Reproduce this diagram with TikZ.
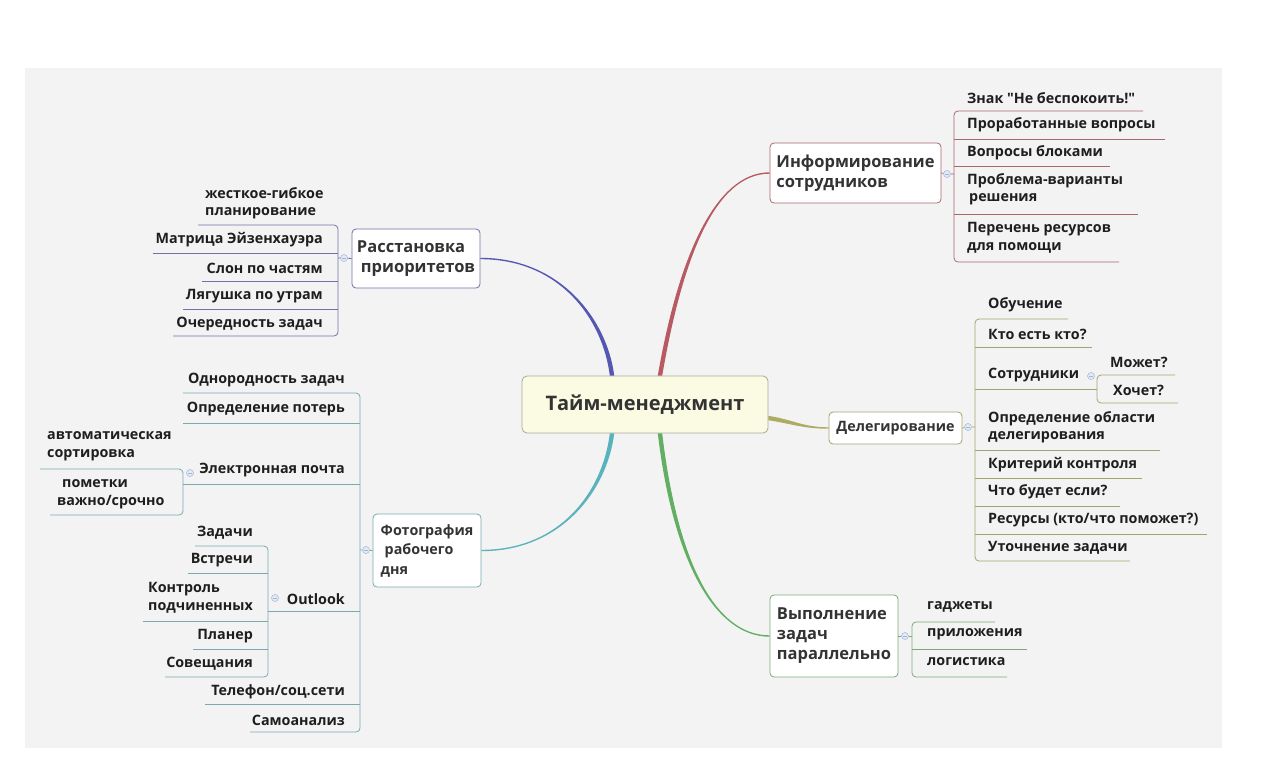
\documentclass[tikz,border=0pt]{standalone}
\usepackage{fontspec}
\setmainfont{Open Sans}[Ligatures=TeXOff]
\usetikzlibrary{calc}

\definecolor{bgcol}{HTML}{F3F3F3}
\definecolor{txtcol}{HTML}{1E1E1E}
\definecolor{topcol}{HTML}{333333}
\definecolor{rootfill}{HTML}{FBFBE4}
\definecolor{rootline}{HTML}{A9A99B}
\definecolor{bluebr}{HTML}{5558B2}
\definecolor{blueln}{HTML}{6F72A3}
\definecolor{redbr}{HTML}{B75A62}
\definecolor{redln}{HTML}{A8686D}
\definecolor{olivebr}{HTML}{ADAC62}
\definecolor{oliveln}{HTML}{A5A470}
\definecolor{tealbr}{HTML}{5AB2BB}
\definecolor{tealln}{HTML}{7AAAB0}
\definecolor{greenbr}{HTML}{62AE62}
\definecolor{greenln}{HTML}{7AAA7A}
\definecolor{mkfill}{HTML}{E2EAF6}
\definecolor{mkline}{HTML}{A3B4D4}

\tikzset{
  rootbox/.style={draw=rootline, fill=rootfill, rounded corners=5pt, line width=0.8pt,
    minimum width=246pt, minimum height=57pt, inner sep=0pt, text=topcol,
    font=\bfseries\fontsize{20}{23}\selectfont},
  topic/.style={draw=#1, fill=white, rounded corners=4pt, line width=0.8pt, inner sep=0pt,
    align=left, text=topcol, font=\bfseries\fontsize{16.5}{20}\selectfont},
  small topic/.style={font=\bfseries\fontsize{14.3}{19.5}\selectfont},
  leaf/.style={inner sep=0pt, align=left, text=txtcol, font=\bfseries\fontsize{14.3}{17.5}\selectfont},
  ul/.style={draw=#1, line width=0.8pt, rounded corners=4pt},
  marker/.style={circle, draw=mkline, fill=mkfill, minimum size=7pt, inner sep=0pt, line width=0.5pt,
    path picture={\draw[mkline, line width=0.7pt]
      ($(path picture bounding box.center)+(-2,0)$) -- ++(4,0);}},
}

\begin{document}
\begin{tikzpicture}[x=1pt, y=-1pt]
\useasboundingbox (0,0) rectangle (1263,769);
\fill[bgcol] (25,68) rectangle (1222,748);

% centre
\node[rootbox] (root) at (645,404.5) {Тайм-менеджмент};
\coordinate (rootNW) at ($(root.north)+(-33,0)$);
\coordinate (rootNE) at ($(root.north)+(15,0)$);
\coordinate (rootSW) at ($(root.south)+(-33,0)$);
\coordinate (rootSE) at ($(root.south)+(15,0)$);
\coordinate (rootE) at ($(root.east)+(0,13.5)$);

% main topics
\node[topic=blueln, minimum width=128pt, minimum height=59pt] (prio) at (416,258.5) {Расстановка\\\hspace*{4pt}приоритетов};
\node[topic=redln, minimum width=171pt, minimum height=60pt] (info) at (855.5,173) {Информирование\\сотрудников};
\node[topic=oliveln, small topic, minimum width=133pt, minimum height=32pt] (deleg) at (895.5,428) {Делегирование};
\node[topic=tealln, small topic, minimum width=108pt, minimum height=73pt] (photo) at (427,550.5) {Фотография\\\hspace*{4pt}рабочего\\дня};
\node[topic=greenln, minimum width=128pt, minimum height=82pt] (paral) at (834,636) {Выполнение\\задач\\параллельно};

% branches (tapered)
\fill[bluebr] ($(rootNW)+(-2.2,0)$) .. controls +(-7,-56) and +(80,0) .. ($(prio.east)+(0,0.7)$)
  -- ($(prio.east)+(0,-0.7)$) .. controls +(80,0) and +(-7,-56) .. ($(rootNW)+(2.2,0)$) -- cycle;
\fill[redbr] ($(rootNE)+(-2.2,0)$) .. controls +(20,-116) and +(-55,0) .. ($(info.west)+(0,-0.7)$)
  -- ($(info.west)+(0,0.7)$) .. controls +(-55,0) and +(20,-116) .. ($(rootNE)+(2.2,0)$) -- cycle;
\fill[olivebr] ($(rootE)+(0,-2.2)$) .. controls +(25,4) and +(-25,0) .. ($(deleg.west)+(0,-0.7)$)
  -- ($(deleg.west)+(0,0.7)$) .. controls +(-25,0) and +(25,4) .. ($(rootE)+(0,2.2)$) -- cycle;
\fill[tealbr] ($(rootSW)+(2.2,0)$) .. controls +(-7,57) and +(80,0) .. ($(photo.east)+(0,0.7)$)
  -- ($(photo.east)+(0,-0.7)$) .. controls +(80,0) and +(-7,57) .. ($(rootSW)+(-2.2,0)$) -- cycle;
\fill[greenbr] ($(rootSE)+(2.2,0)$) .. controls +(15,127) and +(-55,0) .. ($(paral.west)+(0,-0.7)$)
  -- ($(paral.west)+(0,0.7)$) .. controls +(-55,0) and +(15,127) .. ($(rootSE)+(-2.2,0)$) -- cycle;

% Расстановка приоритетов
\node[marker] (cprio) at (344,258) {};
\draw[ul=blueln] (prio.west) -- (cprio) -- (338,258);
\draw[ul=blueln] (198,225) -- (338,225) -- (338,336) -- (173,336);
\foreach \y/\xl in {253/153, 281/202, 309/183}
  \draw[ul=blueln] (\xl,\y) -- (338,\y);
\node[leaf, anchor=west] (pr1) at (205,203) {жесткое-гибкое\\планирование};
\node[leaf, anchor=east] (pr2) at (323,240) {Матрица Эйзенхауэра};
\node[leaf, anchor=east] (pr3) at (323,268) {Слон по частям};
\node[leaf, anchor=east] (pr4) at (323,296) {Лягушка по утрам};
\node[leaf, anchor=east] (pr5) at (323,324) {Очередность задач};

% Информирование сотрудников
\node[marker] (cinfo) at (947,174) {};
\draw[ul=redln] (info.east) -- (cinfo) -- (954,174);
\draw[ul=redln] (1143,111) -- (954,111) -- (954,262) -- (1119,262);
\foreach \y/\xr in {139/1165, 166/1110, 214/1138}
  \draw[ul=redln] (954,\y) -- (\xr,\y);
\node[leaf, anchor=west] (in1) at (967,98) {Знак "Не беспокоить!"};
\node[leaf, anchor=west] (in2) at (967,125) {Проработанные вопросы};
\node[leaf, anchor=west] (in3) at (967,153) {Вопросы блоками};
\node[leaf, anchor=west] (in4) at (967,189) {Проблема-варианты\\\hspace*{2pt}решения};
\node[leaf, anchor=west] (in5) at (967,238) {Перечень ресурсов\\для помощи};

% Делегирование
\node[marker] (cdeleg) at (968,427) {};
\draw[ul=oliveln] (deleg.east) -- (cdeleg) -- (975,427);
\draw[ul=oliveln] (1068,319) -- (975,319) -- (975,561) -- (1130,561);
\foreach \y/\xr in {347/1092, 389/1097, 450/1160, 478/1142, 506/1120, 534/1207}
  \draw[ul=oliveln] (975,\y) -- (\xr,\y);
\draw[ul=oliveln] (1175,375) -- (1097,375) -- (1097,403) -- (1178,403);
\node[leaf, anchor=west] (de1) at (988,305) {Обучение};
\node[leaf, anchor=west] (de2) at (988,334) {Кто есть кто?};
\node[leaf, anchor=west] (de3) at (988,375) {Сотрудники};
\node[marker] (cstaff) at (1091,376) {};
\node[leaf, anchor=west] (de31) at (1110,362) {Может?};
\node[leaf, anchor=west] (de32) at (1113,390) {Хочет?};
\node[leaf, anchor=west] (de4) at (988,427) {Определение области\\делегирования};
\node[leaf, anchor=west] (de5) at (988,465) {Критерий контроля};
\node[leaf, anchor=west] (de6) at (988,492) {Что будет если?};
\node[leaf, anchor=west] (de7) at (988,520) {Ресурсы (кто/что поможет?)};
\node[leaf, anchor=west] (de8) at (988,548) {Уточнение задачи};

% Выполнение задач параллельно
\node[marker] (cparal) at (905,636) {};
\draw[ul=greenln] (paral.east) -- (cparal) -- (912,636);
\draw[ul=greenln] (995,622) -- (912,622) -- (912,677) -- (1007,677);
\draw[ul=greenln] (912,649) -- (1027,649);
\node[leaf, anchor=west] (pa1) at (927,607) {гаджеты};
\node[leaf, anchor=west] (pa2) at (927,634) {приложения};
\node[leaf, anchor=west] (pa3) at (927,662) {логистика};

% Фотография рабочего дня
\node[marker] (cphoto) at (366,550) {};
\draw[ul=tealln] (photo.west) -- (cphoto) -- (360,550);
\draw[ul=tealln] (183,393) -- (360,393) -- (360,732) -- (250,732);
\foreach \y/\xl in {423/183, 484/183, 611/268, 704/205}
  \draw[ul=tealln] (\xl,\y) -- (360,\y);
\draw[ul=tealln] (40,469) -- (183,469) -- (183,515) -- (50,515);
\draw[ul=tealln] (195,546) -- (268,546) -- (268,677) -- (165,677);
\foreach \y/\xl in {573/188, 621/143, 649/193}
  \draw[ul=tealln] (\xl,\y) -- (268,\y);
\node[leaf, anchor=east] (ph1) at (345,380) {Однородность задач};
\node[leaf, anchor=east] (ph2) at (345,409) {Определение потерь};
\node[leaf, anchor=east] (ph3) at (345,470) {Электронная почта};
\node[marker] (cmail) at (190,473) {};
\node[leaf, anchor=west] (ph31) at (47,446) {автоматическая\\сортировка};
\node[leaf, anchor=west] (ph32) at (57,494) {\hspace*{5pt}пометки\\важно/срочно};
\node[leaf, anchor=east] (ph4) at (345,599) {Outlook};
\node[marker] (coutl) at (275,598) {};
\node[leaf, anchor=east] (ph41) at (253,533) {Задачи};
\node[leaf, anchor=east] (ph42) at (253,560) {Встречи};
\node[leaf, anchor=west] (ph43) at (148,598) {Контроль\\подчиненных};
\node[leaf, anchor=east] (ph44) at (253,636) {Планер};
\node[leaf, anchor=east] (ph45) at (253,664) {Совещания};
\node[leaf, anchor=east] (ph5) at (345,692) {Телефон/соц.сети};
\node[leaf, anchor=east] (ph6) at (345,720) {Самоанализ};

\end{tikzpicture}
\end{document}
